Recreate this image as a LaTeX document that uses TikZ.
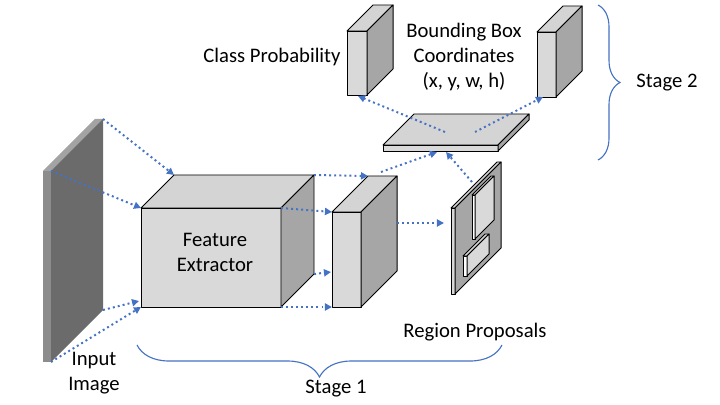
\documentclass[tikz,border=0pt]{standalone}
\usepackage{fontspec}
\setmainfont{Carlito}
\usetikzlibrary{arrows.meta,decorations.pathreplacing}

\definecolor{flowblue}{HTML}{4472C4}
\definecolor{frontgray}{HTML}{D9D9D9}
\definecolor{topgray}{HTML}{D4D4D4}
\definecolor{sidegray}{HTML}{A6A6A6}
\definecolor{slabfront}{HTML}{8C8C8C}
\definecolor{slabtop}{HTML}{A3A3A3}
\definecolor{slabside}{HTML}{6B6B6B}

% cuboid: name, x, y (front top left), width, height, depth
\newcommand{\cuboid}[6]{%
  \coordinate (#1-ftl) at (#2,#3);
  \coordinate (#1-ftr) at ({#2+#4},#3);
  \coordinate (#1-fbl) at (#2,{#3+#5});
  \coordinate (#1-fbr) at ({#2+#4},{#3+#5});
  \coordinate (#1-btl) at ({#2+#6},{#3-#6});
  \coordinate (#1-btr) at ({#2+#4+#6},{#3-#6});
  \coordinate (#1-bbr) at ({#2+#4+#6},{#3+#5-#6});
  \path[front face] (#1-ftl) rectangle (#1-fbr);
  \path[top face] (#1-ftl) -- (#1-btl) -- (#1-btr) -- (#1-ftr) -- cycle;
  \path[side face] (#1-ftr) -- (#1-btr) -- (#1-bbr) -- (#1-fbr) -- cycle;
}

\tikzset{
  face/.style={draw=black, line width=0.7pt, line join=round},
  front face/.style={face, fill=frontgray},
  top face/.style={face, fill=topgray},
  side face/.style={face, fill=sidegray},
  flow/.style={flowblue, line width=1.4pt, dash pattern=on 1.4pt off 2.2pt,
    -{Triangle[length=5pt,width=5pt]}},
  stagebrace/.style={flowblue, line width=0.8pt, decorate},
  txt/.style={align=center, inner sep=0pt, font=\fontsize{14.7}{17.7}\selectfont}
}

\begin{document}
\begin{tikzpicture}[x=0.025cm, y=-0.025cm]
\useasboundingbox (0,0) rectangle (720,405);

% input image
\begin{scope}[front face/.style={fill=slabfront}, top face/.style={fill=slabtop},
  side face/.style={fill=slabside}]
  \cuboid{in}{43}{171}{8}{191}{52}
\end{scope}

% stage 1
\cuboid{fe}{141}{208}{140}{99}{33}
\cuboid{fm}{332}{212}{29}{95}{36}
\cuboid{rp}{451}{208}{4}{86}{46}
\begin{scope}[front face/.style={face, fill=white}, side face/.style={face, fill=frontgray}]
  \cuboid{pu}{472}{195}{3}{44}{19}
  \cuboid{pl}{463}{256}{4}{20}{22}
\end{scope}

% stage 2
\cuboid{fp}{383}{145}{115}{6}{31}
\cuboid{cp}{347}{31}{20}{64}{26}
\cuboid{bb}{537}{32}{19}{65}{26}

% labels
\node[txt] (cls) at (272,57) {Class Probability};
\node[txt] (bbx) at (464,57) {Bounding Box\\Coordinates\\(x, y, w, h)};
\node[txt] (s2) at (667,83) {Stage 2};
\node[txt] (fet) at (215,252) {Feature\\Extractor};
\node[txt] (rpt) at (475,332) {Region Proposals};
\node[txt] (s1) at (336,389) {Stage 1};
\node[txt] (inp) at (94,373) {Input\\Image};

% arrow ends
\coordinate (fe-in) at (139,301);
\coordinate (fm-in) at (331,272);
\coordinate (fm-out) at (397,223);
\coordinate (fm-up) at (381,172);
\coordinate (rp-in) at (444,223);
\coordinate (rp-up) at (472,182);
\coordinate (fp-in1) at (437,152);
\coordinate (fp-in2) at (446,152);
\coordinate (fp-out1) at (445,132);
\coordinate (fp-out2) at (475,132);
\coordinate (cp-in) at (358,96);
\coordinate (bb-in) at (543,97);

\draw[flow] (in-btr) -- (fe-btl);
\draw[flow] (in-ftr) -- (fe-ftl);
\draw[flow] (in-bbr) -- (fe-in);
\draw[flow] (in-fbr) -- (fe-fbl);
\draw[flow] (fe-btr) -- (fm-btl);
\draw[flow] (fe-ftr) -- (fm-ftl);
\draw[flow] (fe-bbr) -- (fm-in);
\draw[flow] (fe-fbr) -- (fm-fbl);
\draw[flow] (fm-out) -- (rp-in);
\draw[flow] (fm-up) -- (fp-in1);
\draw[flow] (rp-up) -- (fp-in2);
\draw[flow] (fp-out1) -- (cp-in);
\draw[flow] (fp-out2) -- (bb-in);

% braces
\draw[stagebrace, decoration={brace, mirror, amplitude=0.8cm}] (137,345) -- (502,345);
\draw[stagebrace, decoration={brace, amplitude=0.55cm}] (598,5) -- (598,160);
\end{tikzpicture}
\end{document}
